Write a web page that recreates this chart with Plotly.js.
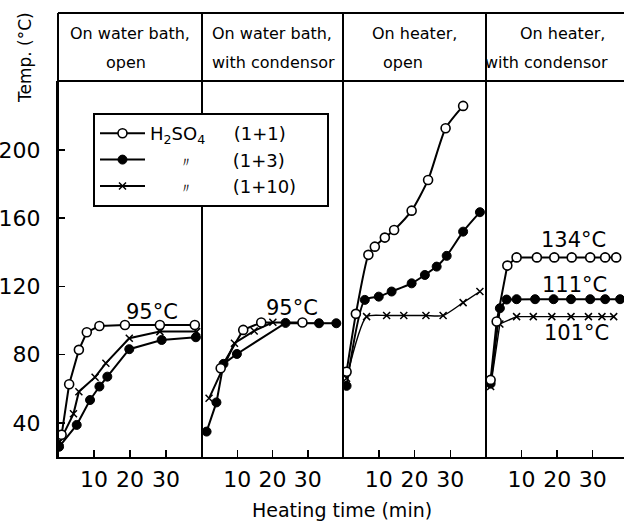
<!DOCTYPE html>
<html>
<head>
<meta charset="utf-8">
<script src="https://cdn.plot.ly/plotly-3.0.1.min.js"></script>
<style>html,body{margin:0;padding:0;background:#fff;}</style>
</head>
<body>
<div id="chart" style="width:624px;height:521px;"></div>
<script>
// Panel titles
const panelTitles = [
  ["On water bath,", "open"],
  ["On water bath,", "with condensor"],
  ["On heater,", "open"],
  ["On heater,", "with condensor"]
];
const seriesNames = ["H<sub>2</sub>SO<sub>4</sub>\u00a0\u00a0\u00a0\u00a0\u00a0(1+1)\u00a0\u00a0\u00a0\u00a0\u2800",
  "\u00a0\u00a0\u00a0\u00a0\u00a0<span style='font-size:14px'>\u3003</span>\u00a0\u00a0\u00a0\u00a0\u00a0\u00a0\u00a0(1+3)",
  "\u00a0\u00a0\u00a0\u00a0\u00a0<span style='font-size:14px'>\u3003</span>\u00a0\u00a0\u00a0\u00a0\u00a0\u00a0\u00a0(1+10)"];
const xTickVals = [10, 20, 30];
const yTickVals = [40, 80, 120, 160, 200];

// Panel 1: water bath, open
const p1OpenX = [1.0, 3.1, 5.8, 8.0, 11.5, 18.6, 28.3, 38.0];
const p1OpenY = [33, 62.6, 82.8, 93.1, 96.8, 97.4, 97.4, 97.4];
const p1FillX = [0.3, 5.2, 8.9, 11.5, 13.7, 19.8, 28.8, 38.3];
const p1FillY = [26, 38.8, 53.4, 61.3, 67.1, 83.2, 88.6, 90.2];
const p1CrossX = [0.5, 4.3, 5.8, 10.3, 13.3, 19.8, 28.3, 38.5];
const p1CrossY = [29, 45.3, 58.3, 66.8, 75, 89.6, 93.5, 93.5];

// Panel 2: water bath, with condensor
const p2OpenX = [5.3, 11.7, 16.8, 28.5];
const p2OpenY = [72, 94.5, 98.8, 98.8];
const p2FillX = [1.3, 4.1, 6.1, 9.9, 23.7, 33.2, 38.1];
const p2FillY = [34.9, 52, 74.6, 80.4, 98.6, 98.4, 98.4];
const p2CrossX = [2.0, 9.2, 14.8, 20.1];
const p2CrossY = [54.4, 86.7, 93.9, 99.0];

// Panel 3: heater, open
const p3OpenX = [1.0, 3.6, 7.1, 8.9, 11.7, 14.3, 19.2, 23.8, 28.7, 33.6];
const p3OpenY = [70, 103.9, 138.5, 143.3, 148.6, 153.1, 164.4, 182.4, 212.7, 225.8];
const p3FillX = [1.0, 6.1, 10.0, 13.6, 19.2, 22.9, 26.2, 29.0, 33.6, 38.3];
const p3FillY = [61.7, 112.1, 114, 117, 121.8, 126.7, 131.6, 137.9, 152.1, 163.5];
const p3CrossX = [1.0, 6.6, 12.2, 17.0, 23.2, 28.0, 33.6, 38.3];
const p3CrossY = [66.2, 102.3, 102.9, 102.9, 102.9, 102.9, 110.5, 117];

// Panel 4: heater, with condensor
const p4OpenX = [1.3, 3.0, 6.0, 8.6, 14.3, 19.2, 24.1, 29.3, 33.5, 36.6];
const p4OpenY = [65.2, 99.4, 132.2, 137, 137, 137, 137, 137, 137, 137];
const p4FillX = [1.3, 3.9, 5.8, 8.6, 13.8, 19.0, 23.9, 29.3, 33.5, 37.7];
const p4FillY = [63, 107.2, 112.3, 112.5, 112.5, 112.5, 112.5, 112.5, 112.5, 112.5];
const p4CrossX = [1.3, 3.9, 8.6, 13.3, 18.5, 23.9, 28.8, 32.6, 35.9];
const p4CrossY = [61.3, 98, 102.3, 102.3, 102.3, 102.3, 102.3, 102.3, 102.3];

// Temperature labels: [panel, x, y, text]
const tempLabels = [
  [1, 26.1, 105, "95°C"],
  [2, 25.6, 107.4, "95°C"],
  [4, 24.5, 147.2, "134°C"],
  [4, 24.8, 120.9, "111°C"],
  [4, 25.4, 92.7, "101°C"]
];

const FONT = "DejaVu Sans, Liberation Sans, sans-serif";
const panels = [
  {open: [p1OpenX, p1OpenY], fill: [p1FillX, p1FillY], cross: [p1CrossX, p1CrossY], shape: "linear"},
  {open: [p2OpenX, p2OpenY], fill: [p2FillX, p2FillY], cross: [p2CrossX, p2CrossY], shape: "linear"},
  {open: [p3OpenX, p3OpenY], fill: [p3FillX, p3FillY], cross: [p3CrossX, p3CrossY], shape: "spline"},
  {open: [p4OpenX, p4OpenY], fill: [p4FillX, p4FillY], cross: [p4CrossX, p4CrossY], shape: "linear"}
];

const traces = [];
panels.forEach((p, i) => {
  const xa = i === 0 ? "x" : "x" + (i + 1);
  const first = i === 0;
  traces.push({x: p.cross[0], y: p.cross[1], xaxis: xa, yaxis: "y", mode: "lines+markers",
    name: seriesNames[2], legendgroup: "c", showlegend: first, legendrank: 3,
    line: {color: "#000", width: (i >= 2 ? 1.4 : 2), shape: p.shape, smoothing: 0.6},
    marker: {symbol: "x-thin", size: 7, color: "#000", line: {color: "#000", width: 1.5}}});
  traces.push({x: p.fill[0], y: p.fill[1], xaxis: xa, yaxis: "y", mode: "lines+markers",
    name: seriesNames[1], legendgroup: "b", showlegend: first, legendrank: 2,
    line: {color: "#000", width: 2, shape: p.shape, smoothing: 0.6},
    marker: {symbol: "circle", size: 9, color: "#000", line: {color: "#000", width: 1}}});
  traces.push({x: p.open[0], y: p.open[1], xaxis: xa, yaxis: "y", mode: "lines+markers",
    name: seriesNames[0], legendgroup: "a", showlegend: first, legendrank: 1,
    line: {color: "#000", width: 2, shape: p.shape, smoothing: 0.6},
    marker: {symbol: "circle", size: 9, color: "#fff", line: {color: "#000", width: 1.6}}});
});

// geometry (px within plot area of width 566, height 376)
const W = 566, H = 376;
const edges = [0, 144, 285, 428, 566];
const dom = edges.map(e => e / W);
const xRanges = [[0, 40], [0, 40], [0, 40], [0, 38.8]];

const layout = {
  width: 624, height: 521,
  margin: {l: 58, r: 0, t: 81, b: 64, pad: 0},
  paper_bgcolor: "#fff", plot_bgcolor: "#fff",
  font: {family: FONT, color: "#000"},
  showlegend: true,
  legend: {x: 35 / W, y: (457 - 113) / H, xanchor: "left", yanchor: "top",
    bgcolor: "#fff", bordercolor: "#000", borderwidth: 2,
    font: {family: FONT, size: 18, color: "#000"}, itemwidth: 45, tracegroupgap: 0,
    traceorder: "normal"},
  yaxis: {range: [20, 240.4], domain: [0, 1], anchor: "x", tickvals: yTickVals,
    ticks: "inside", ticklen: 7, tickwidth: 1.5, tickcolor: "#000",
    showline: true, linewidth: 2, linecolor: "#000", showgrid: false, zeroline: false,
    ticklabelstandoff: 11, tickfont: {family: FONT, size: 22, color: "#000"}},
  shapes: [],
  annotations: []
};
for (let i = 0; i < 4; i++) {
  const key = i === 0 ? "xaxis" : "xaxis" + (i + 1);
  layout[key] = {domain: [dom[i], dom[i + 1]], range: xRanges[i], anchor: "y",
    tickvals: xTickVals, ticks: "inside", ticklen: 7, tickwidth: 1.5, tickcolor: "#000",
    showline: true, linewidth: 2, linecolor: "#000", showgrid: false, zeroline: false,
    ticklabelstandoff: 2, tickfont: {family: FONT, size: 22, color: "#000"}};
}

const headTop = (457 - 13) / H;
// header box lines and panel dividers
layout.shapes.push({type: "line", xref: "paper", yref: "paper", x0: 0, x1: 1.01, y0: headTop, y1: headTop, line: {color: "#000", width: 2}});
layout.shapes.push({type: "line", xref: "paper", yref: "paper", x0: 0, x1: 1.01, y0: 1, y1: 1, line: {color: "#000", width: 2}});
layout.shapes.push({type: "line", xref: "paper", yref: "paper", x0: 0, x1: 0, y0: 0, y1: headTop, line: {color: "#000", width: 2}});
for (let i = 1; i < 4; i++) {
  layout.shapes.push({type: "line", xref: "paper", yref: "paper", x0: dom[i], x1: dom[i], y0: 0, y1: headTop, line: {color: "#000", width: 2}});
}

// header texts
const headCenters = [[130, 126], [272, 273], [414, 403], [562, 546]];
panelTitles.forEach((t, i) => {
  layout.annotations.push({xref: "paper", yref: "paper", x: (headCenters[i][0] - 58) / W, y: (457 - 33) / H,
    text: t[0], showarrow: false, xanchor: "center", yanchor: "middle", font: {family: FONT, size: 16}});
  layout.annotations.push({xref: "paper", yref: "paper", x: (headCenters[i][1] - 58) / W, y: (457 - 62) / H,
    text: t[1], showarrow: false, xanchor: "center", yanchor: "middle", font: {family: FONT, size: 16}});
});

// axis titles
layout.annotations.push({xref: "paper", yref: "paper", x: (25 - 58) / W, y: (457 - 58) / H, text: "Temp. (°C)",
  textangle: -90, showarrow: false, xanchor: "center", yanchor: "middle", font: {family: FONT, size: 17}});
layout.annotations.push({xref: "paper", yref: "paper", x: (342 - 58) / W, y: (457 - 510) / H, text: "Heating time (min)",
  showarrow: false, xanchor: "center", yanchor: "middle", font: {family: FONT, size: 19}});

// temperature labels
tempLabels.forEach(l => {
  layout.annotations.push({xref: l[0] === 1 ? "x" : "x" + l[0], yref: "y", x: l[1], y: l[2], text: l[3],
    showarrow: false, xanchor: "center", yanchor: "middle", font: {family: FONT, size: 21}});
});

Plotly.newPlot("chart", traces, layout, {displayModeBar: false, staticPlot: true});
</script>
</body>
</html>
